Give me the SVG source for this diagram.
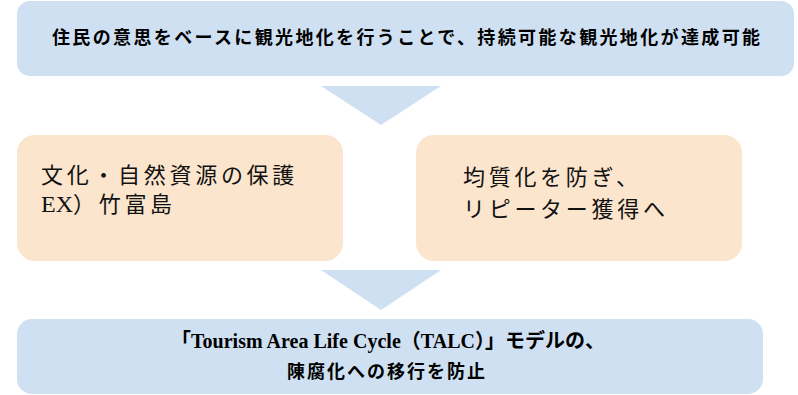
<svg xmlns="http://www.w3.org/2000/svg" width="798" height="395" viewBox="0 0 798 395">
<style>
.blue{fill:#cfe0f2}
.peach{fill:#fbe5cd}
.t1{font-family:"Noto Sans CJK JP",sans-serif;font-weight:bold;font-size:18px;fill:#000}
.t2{font-family:"Liberation Serif","Noto Sans CJK JP",serif;font-size:22px;fill:#111;letter-spacing:3.7px}
.t3{font-family:"Liberation Serif","Noto Sans CJK JP",serif;font-weight:bold;font-size:20px;fill:#000}
.t4{font-size:18px;letter-spacing:2px}
.ls0{letter-spacing:0;font-size:24px}
</style>
<rect width="798" height="395" fill="#fff"/>
<g id="connectors">
<polygon class="blue" points="321,86 441,86 381,125"/>
<polygon class="blue" points="321,270 441,270 381,310"/>
</g>
<g id="top">
<rect class="blue" x="17" y="1" width="777" height="75" rx="13"/>
<text class="t1" x="52" y="44" textLength="708" lengthAdjust="spacing">住民の意思をベースに観光地化を行うことで、持続可能な観光地化が達成可能</text>
</g>
<g id="left">
<rect class="peach" x="17" y="135" width="326" height="126" rx="18"/>
<text class="t2" x="41" y="183">文化・自然資源の保護</text>
<text class="t2" x="41" y="212"><tspan class="ls0">EX</tspan><tspan x="73">）竹富島</tspan></text>
</g>
<g id="right">
<rect class="peach" x="416" y="135" width="326" height="126" rx="18"/>
<text class="t2" x="463" y="185">均質化を防ぎ、</text>
<text class="t2" x="463" y="217">リピーター獲得へ</text>
</g>
<g id="bottom">
<rect class="blue" x="17" y="319" width="746" height="75" rx="15"/>
<text class="t3" x="171" y="348" textLength="434" lengthAdjust="spacing">「Tourism Area Life Cycle（TALC）」モデルの、</text>
<text class="t3 t4" x="287" y="378">陳腐化への移行を防止</text>
</g>
</svg>
